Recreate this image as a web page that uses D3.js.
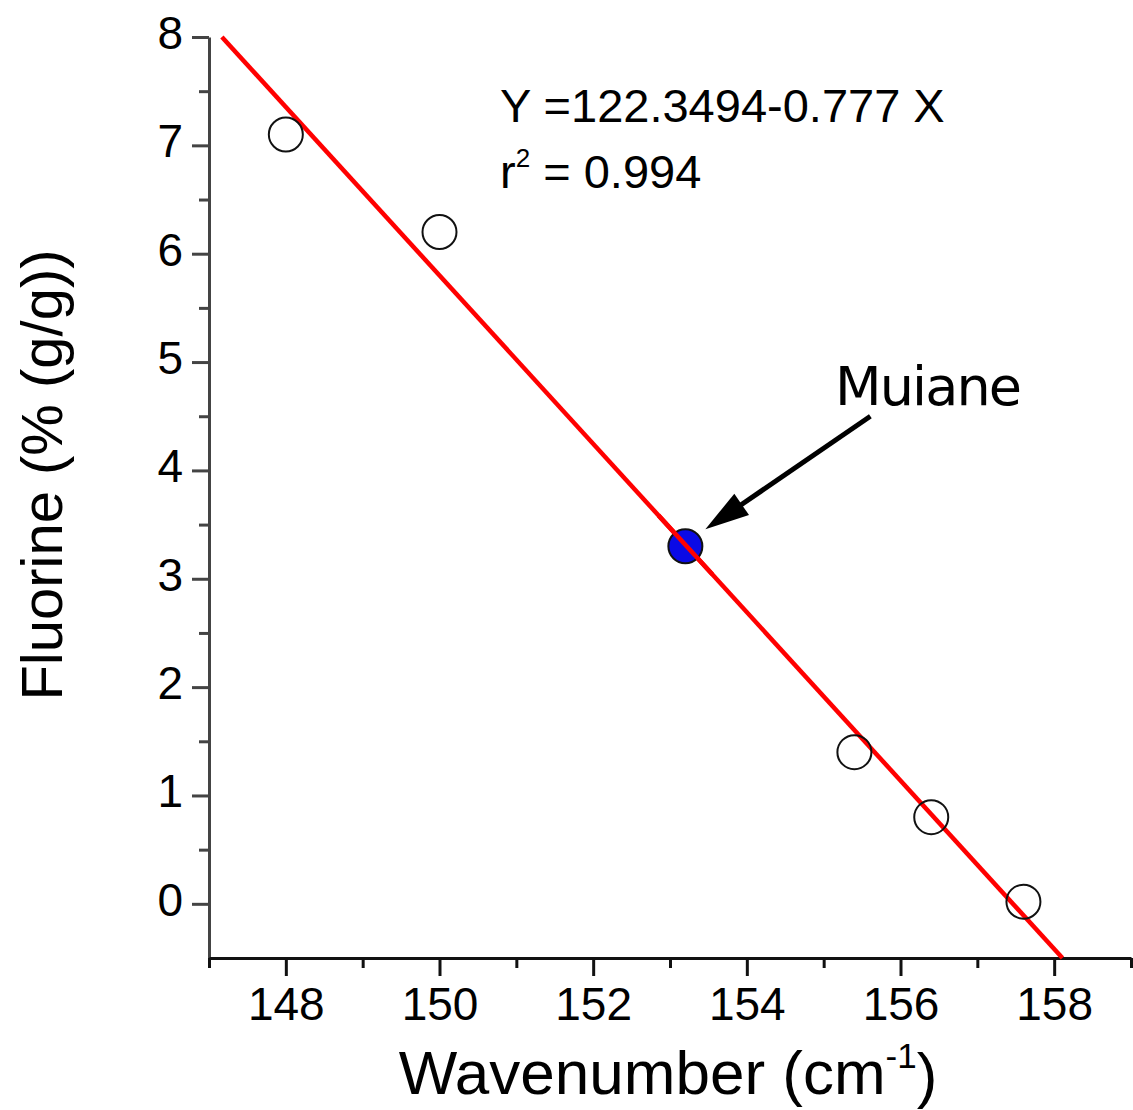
<!DOCTYPE html>
<html>
<head>
<meta charset="utf-8">
<script src="https://cdn.jsdelivr.net/npm/d3@7"></script>
<style>
  body { margin: 0; background: #fff; }
  svg { display: block; font-family: "Liberation Sans", Arial, sans-serif; }
</style>
</head>
<body>
<svg id="chart" width="1133" height="1110"></svg>
<script>
// data
var wavenumber = [148, 150, 155.4, 156.4, 157.6];
var fluorine   = [7.1, 6.2, 1.4, 0.8, 0.02];
var sampleName = ["Muiane"];
var sampleX    = [153.2];
var sampleY    = [3.3];
var fitIntercept = 122.3494;
var fitSlope     = -0.777;
var xMajor = [148, 150, 152, 154, 156, 158];
var xMinor = [147, 149, 151, 153, 155, 157, 159];
var yMajor = [0, 1, 2, 3, 4, 5, 6, 7, 8];
var yMinor = [0.5, 1.5, 2.5, 3.5, 4.5, 5.5, 6.5, 7.5];

var svg = d3.select("#chart"),
    margin = {top: 37, right: 2, bottom: 152, left: 209},
    width = +svg.attr("width") - margin.left - margin.right,
    height = +svg.attr("height") - margin.top - margin.bottom;

var g = svg.append("g").attr("transform", "translate(" + margin.left + "," + margin.top + ")");

var x = d3.scaleLinear().domain([147, 159]).range([0, width]);
var y = d3.scaleLinear().domain([-0.5, 8]).range([height, 0]);

/*
 * osi
 */
function styleAxis(sel, color) {
  sel.select(".domain").attr("stroke", color).attr("stroke-width", 3);
  sel.selectAll(".tick line").attr("stroke", color).attr("stroke-width", 3);
  sel.selectAll(".tick text").attr("fill", "#000").style("font-size", "46px");
}

var yMinorAxis = g.append("g")
    .call(d3.axisLeft(y).tickValues(yMinor).tickSize(10).tickFormat(""));
yMinorAxis.select(".domain").remove();
styleAxis(yMinorAxis, "#444");

var yAxis = g.append("g")
    .call(d3.axisLeft(y).tickValues(yMajor).tickSize(17).tickSizeOuter(0).tickPadding(9));
styleAxis(yAxis, "#444");
yAxis.selectAll(".tick text").attr("dy", "0.25em");

var xMinorAxis = g.append("g")
    .attr("transform", "translate(0," + height + ")")
    .call(d3.axisBottom(x).tickValues(xMinor).tickSize(10).tickFormat(""));
xMinorAxis.select(".domain").remove();
styleAxis(xMinorAxis, "#111");

var xAxis = g.append("g")
    .attr("transform", "translate(0," + height + ")")
    .call(d3.axisBottom(x).tickValues(xMajor).tickSize(18).tickSizeOuter(0).tickPadding(11));
styleAxis(xAxis, "#111");

// popisy osi
var xTitle = svg.append("text")
    .attr("x", 668)
    .attr("y", 1094)
    .attr("text-anchor", "middle")
    .style("font-size", "62px")
    .attr("fill", "#000");
xTitle.append("tspan").text("Wavenumber (cm");
xTitle.append("tspan").attr("dy", "-0.75em").style("font-size", "35px").text("-1");
xTitle.append("tspan").attr("dy", "0.45em").text(")");

svg.append("text")
    .attr("transform", "translate(62,475) rotate(-90)")
    .attr("text-anchor", "middle")
    .style("font-size", "58px")
    .attr("fill", "#000")
    .text("Fluorine (% (g/g))");

/*
 * regresna priamka
 */
var fitX = [(8 - fitIntercept) / fitSlope, (-0.5 - fitIntercept) / fitSlope];
var line = d3.line()
    .x(function(d) { return x(d); })
    .y(function(d) { return y(fitIntercept + fitSlope * d); });

g.append("path")
    .datum(fitX)
    .attr("d", line)
    .attr("fill", "none")
    .attr("stroke", "#ff0000")
    .attr("stroke-width", 4.5);

// body
var pts = wavenumber.map(function(w, i) { return {x: w, y: fluorine[i]}; });
g.selectAll("circle.pt")
    .data(pts)
    .enter().append("circle")
    .attr("class", "pt")
    .attr("cx", function(d) { return x(d.x); })
    .attr("cy", function(d) { return y(d.y); })
    .attr("r", 17)
    .attr("fill", "none")
    .attr("stroke", "#111")
    .attr("stroke-width", 2);

g.selectAll("circle.sample")
    .data(sampleX)
    .enter().append("circle")
    .attr("class", "sample")
    .attr("cx", function(d) { return x(d); })
    .attr("cy", function(d, i) { return y(sampleY[i]); })
    .attr("r", 17)
    .attr("fill", "#0a0ae6")
    .attr("stroke", "#111")
    .attr("stroke-width", 2);

// ciara znova cez plny bod
g.append("path")
    .datum([sampleX[0] - 0.35, sampleX[0] + 0.35])
    .attr("d", line)
    .attr("fill", "none")
    .attr("stroke", "#ff0000")
    .attr("stroke-width", 4.5);

/*
 * sipka a popis vzorky
 */
var mx = x(sampleX[0]), my = y(sampleY[0]);
var tip = [mx + 20, my - 17];
var tail = [mx + 185, my - 130];
var ang = Math.atan2(tip[1] - tail[1], tip[0] - tail[0]);
var headLen = 44, headW = 26;
var base = [tip[0] - headLen * Math.cos(ang), tip[1] - headLen * Math.sin(ang)];

g.append("line")
    .attr("x1", tail[0]).attr("y1", tail[1])
    .attr("x2", base[0] + 5 * Math.cos(ang)).attr("y2", base[1] + 5 * Math.sin(ang))
    .attr("stroke", "#000").attr("stroke-width", 5);
g.append("path")
    .attr("d", "M" + tip[0] + "," + tip[1] +
      "L" + (base[0] + headW / 2 * Math.sin(ang)) + "," + (base[1] - headW / 2 * Math.cos(ang)) +
      "L" + (base[0] - headW / 2 * Math.sin(ang)) + "," + (base[1] + headW / 2 * Math.cos(ang)) + "Z")
    .attr("fill", "#000");

svg.append("text")
    .attr("x", 835)
    .attr("y", 405)
    .style("font-family", "'DejaVu Sans', Verdana, sans-serif")
    .style("font-size", "54px")
    .attr("textLength", 187)
    .attr("fill", "#000")
    .text(sampleName[0]);

// rovnica
svg.append("text")
    .attr("x", 500)
    .attr("y", 122)
    .style("font-size", "47px")
    .attr("fill", "#000")
    .text("Y =" + fitIntercept + fitSlope + " X");

var r2 = svg.append("text")
    .attr("x", 500)
    .attr("y", 188)
    .style("font-size", "47px")
    .attr("fill", "#000");
r2.append("tspan").text("r");
r2.append("tspan").attr("dy", "-0.8em").style("font-size", "26px").text("2");
r2.append("tspan").attr("dy", "0.45em").text(" = 0.994");
</script>
</body>
</html>
